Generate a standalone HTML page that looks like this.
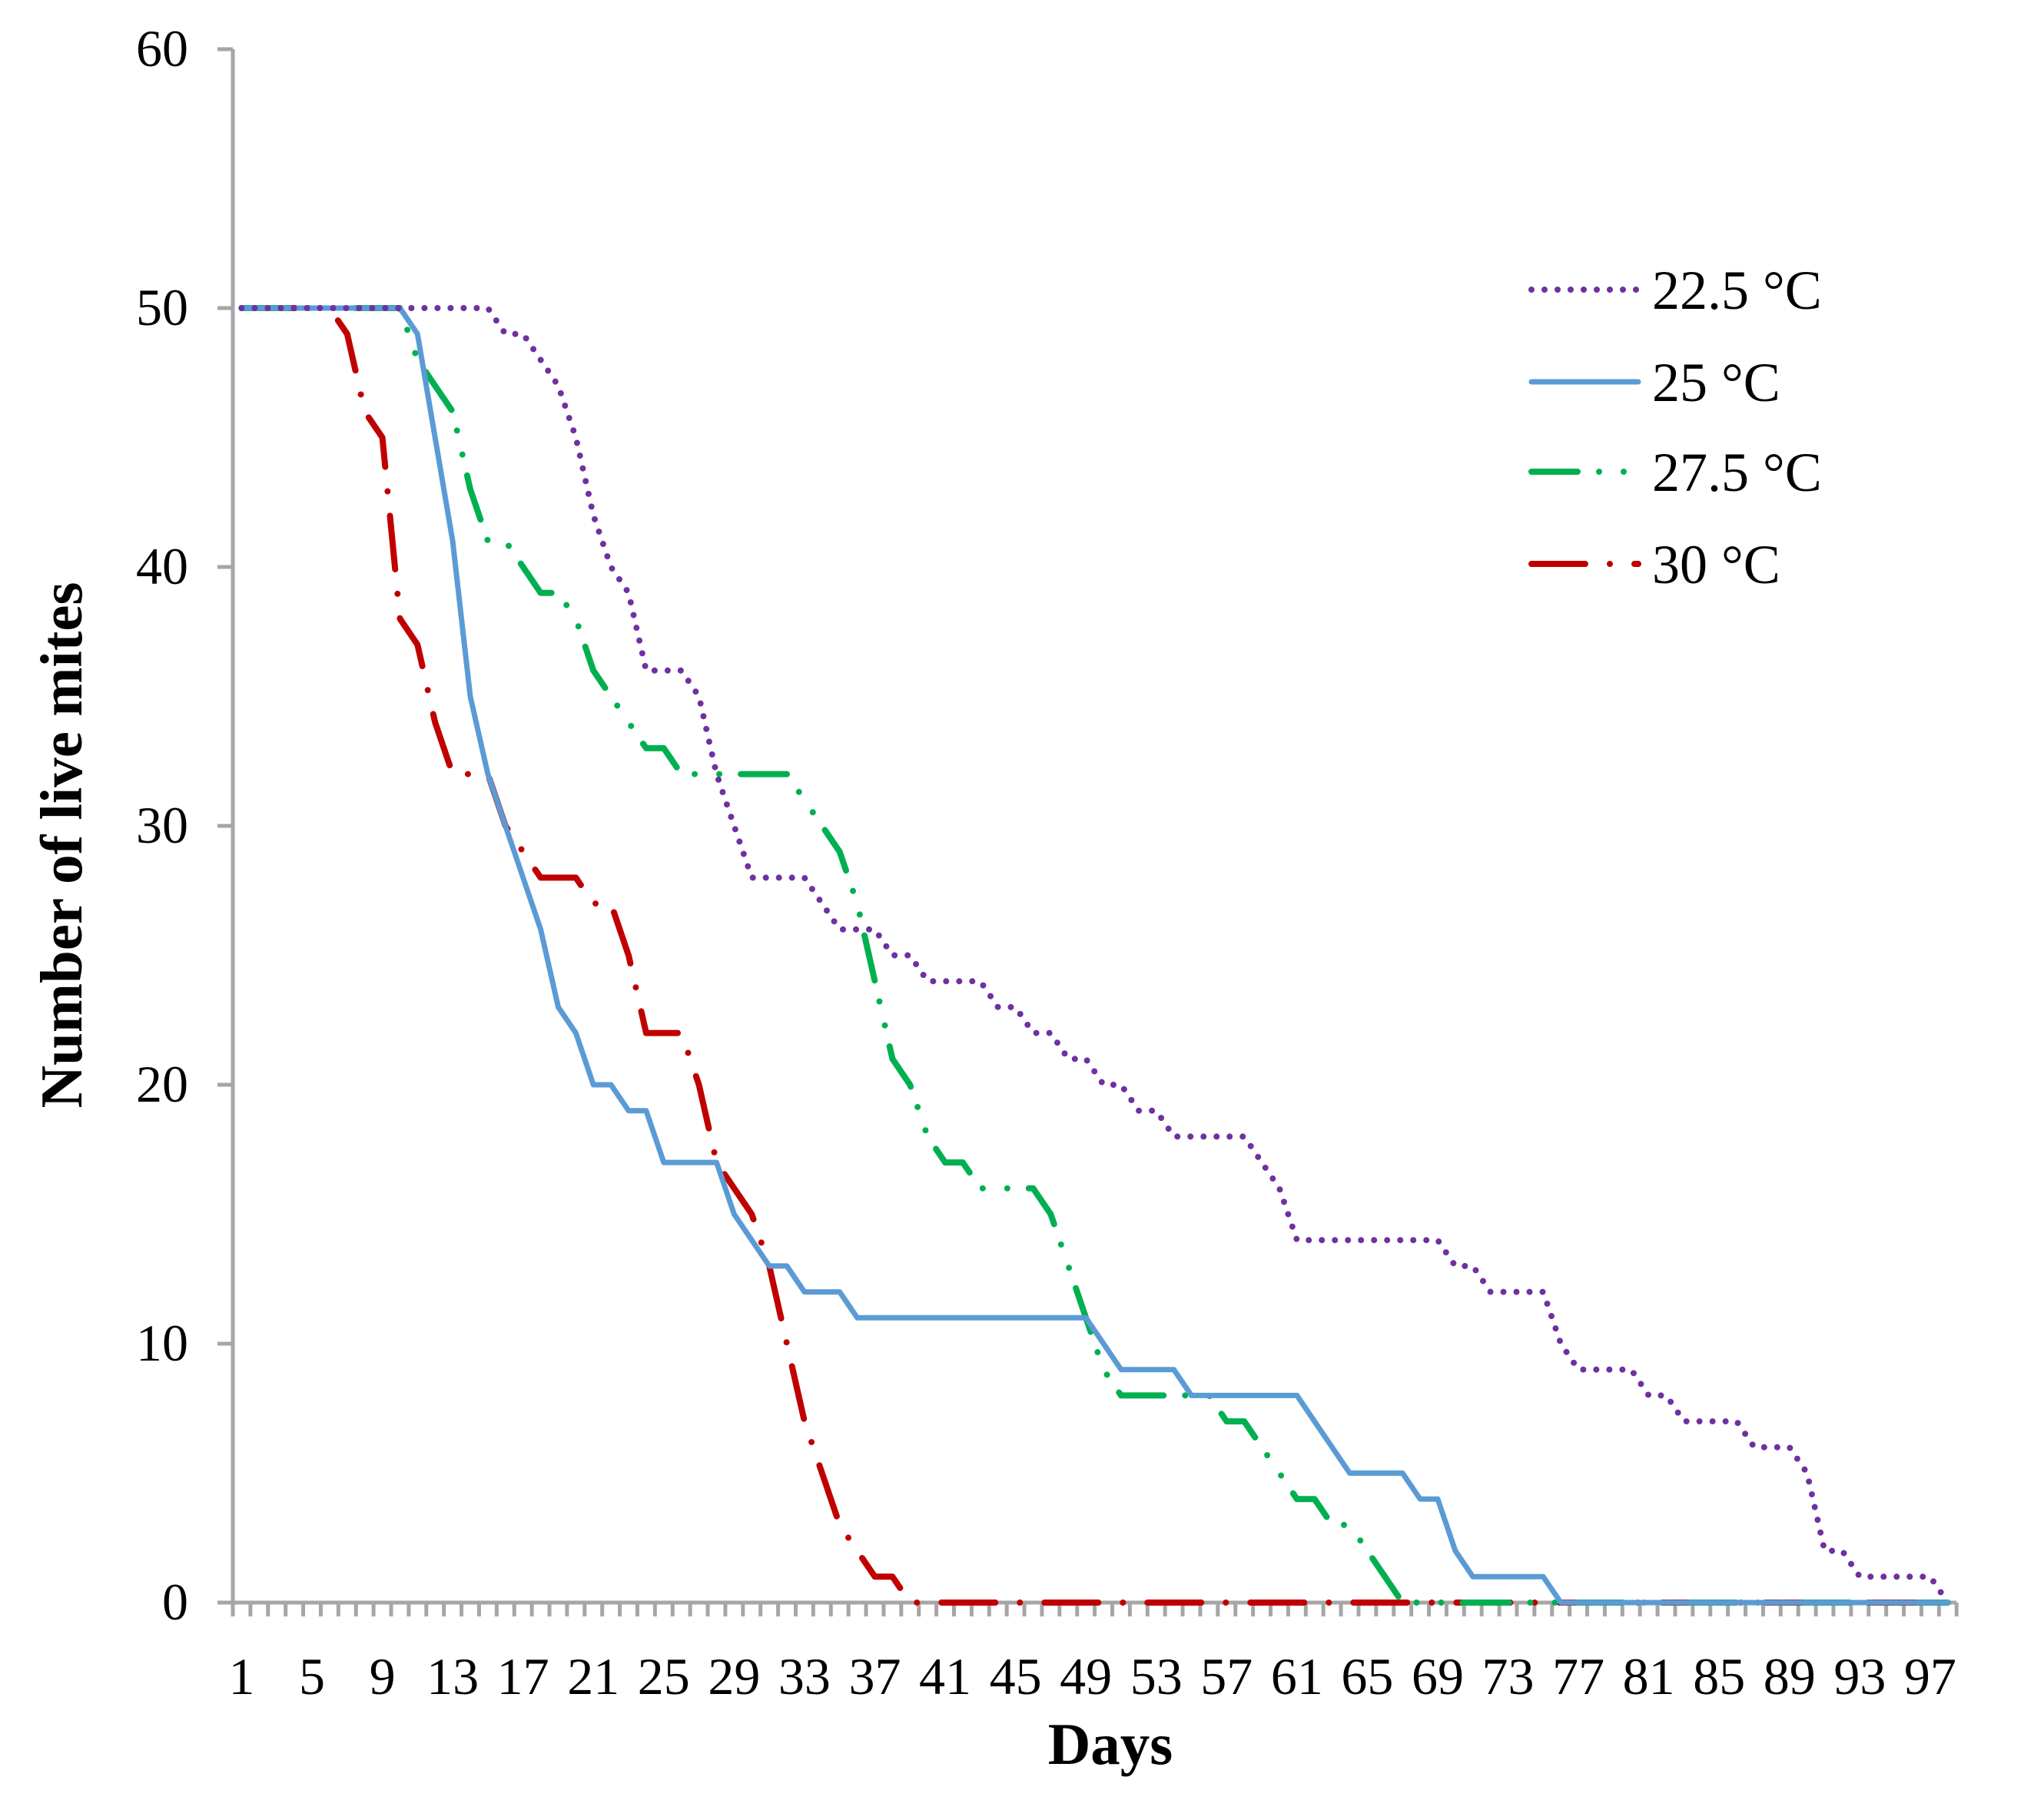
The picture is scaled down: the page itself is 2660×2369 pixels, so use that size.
<!DOCTYPE html>
<html><head><meta charset="utf-8"><style>
html,body{margin:0;padding:0;background:#fff;}
svg{display:block;font-family:"Liberation Serif",serif;}
</style></head><body>
<svg id="chart" width="2660" height="2369" viewBox="0 0 2660 2369" xmlns="http://www.w3.org/2000/svg">
<rect width="2660" height="2369" fill="#fff"/>
<g id="axes"></g>
<g id="series"></g>
<g id="legend"></g>
<text x="0" y="0" transform="translate(106,1100) rotate(-90)" text-anchor="middle" font-size="77" font-weight="bold">Number of live mites</text>
<text x="1445" y="2296" text-anchor="middle" font-size="77" font-weight="bold">Days</text>
</svg>
<script>
const days = Array.from({length:98},(_,i)=>i+1);
const yTicks = [0,10,20,30,40,50,60];
const xTickLabels = [1,5,9,13,17,21,25,29,33,37,41,45,49,53,57,61,65,69,73,77,81,85,89,93,97];
const s225 = [50,50,50,50,50,50,50,50,50,50,50,50,50,50,50,49,49,48,47,45,42,40,39,36,36,36,35,32,30,28,28,28,28,27,26,26,26,25,25,24,24,24,24,23,23,22,22,21,21,20,20,19,19,18,18,18,18,18,17,16,14,14,14,14,14,14,14,14,14,13,13,12,12,12,12,10,9,9,9,9,8,8,7,7,7,7,6,6,6,5,2,2,1,1,1,1,1,0];
const s25 = [50,50,50,50,50,50,50,50,50,50,49,45,41,35,32,30,28,26,23,22,20,20,19,19,17,17,17,17,15,14,13,13,12,12,12,11,11,11,11,11,11,11,11,11,11,11,11,11,11,10,9,9,9,9,8,8,8,8,8,8,8,7,6,5,5,5,5,4,4,2,1,1,1,1,1,0,0,0,0,0,0,0,0,0,0,0,0,0,0,0,0,0,0,0,0,0,0,0];
const s275 = [50,50,50,50,50,50,50,50,50,50,48,47,46,43,41,41,40,39,39,38,36,35,34,33,33,32,32,32,32,32,32,32,31,30,29,27,24,21,20,18,17,17,16,16,16,16,15,13,11,9,8,8,8,8,8,8,7,7,6,5,4,4,3,3,2,1,0,0,0,0,0,0,0,0,0,0,0,0,0,0,0,0,0,0,0,0,0,0,0,0,0,0,0,0,0,0,0,0];
const s30 = [50,50,50,50,50,50,49,46,45,38,37,34,32,32,32,30,29,28,28,28,27,27,25,22,22,22,20,17,16,15,13,10,7,5,3,2,1,1,0,0,0,0,0,0,0,0,0,0,0,0,0,0,0,0,0,0,0,0,0,0,0,0,0,0,0,0,0,0,0,0,0,0,0,0,0,0,0,0,0,0,0,0,0,0,0,0,0,0,0,0,0,0,0,0,0,0,0,0];
const seriesNames = ["22.5 °C","25 °C","27.5 °C","30 °C"];

const NS="http://www.w3.org/2000/svg";
const X0=303, XW=22.89, Y0=2086, YPER=33.7;
function xPos(d){return X0+(d-0.5)*XW;}
function yPos(v){return Y0-v*YPER;}
function mk(tag,attrs,parent){const e=document.createElementNS(NS,tag);for(const k in attrs)e.setAttribute(k,attrs[k]);parent.appendChild(e);return e;}

const axes=document.getElementById('axes');
const gray="#A6A6A6";
let e;
e=mk('line',{x1:X0,y1:yPos(60),x2:X0,y2:Y0,stroke:gray,'stroke-width':5},axes);


e=mk('line',{x1:X0,y1:Y0,x2:X0+98*XW,y2:Y0,stroke:gray,'stroke-width':5},axes);


yTicks.forEach(t=>{
  e=mk('line',{x1:X0-20,y1:yPos(t),x2:X0,y2:yPos(t),stroke:gray,'stroke-width':5},axes);
  
  
  e=mk('text',{x:245,y:yPos(t)+22,'text-anchor':'end','font-size':68},axes);
  e.textContent=t;
  
  
});
for(let i=0;i<=98;i++){
  e=mk('line',{x1:X0+i*XW,y1:Y0,x2:X0+i*XW,y2:Y0+18,stroke:gray,'stroke-width':5},axes);
  
  
}
xTickLabels.forEach(d=>{
  e=mk('text',{x:xPos(d),y:2205,'text-anchor':'middle','font-size':68},axes);
  e.textContent=d;
  
  
});

const styles=[
 {c:"#7030A0",dash:"0 17",w:8,name:'series-22-5c'},
 {c:"#5B9BD5",dash:"none",w:7,name:'series-25c'},
 {c:"#00B050",dash:"60 28 0 32 0 28",w:8,name:'series-27-5c'},
 {c:"#C00000",dash:"70 32 0 32",w:8,name:'series-30c'}
];
const allSeries=[s225,s25,s275,s30];
const sg=document.getElementById('series');
[3,2,1,0].forEach(i=>{
  const st=styles[i];
  const pts=allSeries[i].map((v,k)=>xPos(days[k]).toFixed(1)+","+yPos(v).toFixed(1)).join(" ");
  e=mk('polyline',{points:pts,fill:'none',stroke:st.c,'stroke-width':st.w,'stroke-linecap':'round','stroke-linejoin':'round','stroke-dasharray':st.dash},sg);
  
  
});

const lg=document.getElementById('legend');
const legY=[377,497,614,734];
seriesNames.forEach((n,i)=>{
  const st=styles[i];
  e=mk('line',{x1:1993,y1:legY[i],x2:2132,y2:legY[i],stroke:st.c,'stroke-width':st.w,'stroke-linecap':'round','stroke-dasharray':st.dash},lg);
  
  
  e=mk('text',{x:2150,y:legY[i]+25,'font-size':72},lg);
  e.textContent=n;
  
  
});
</script>
</body></html>
